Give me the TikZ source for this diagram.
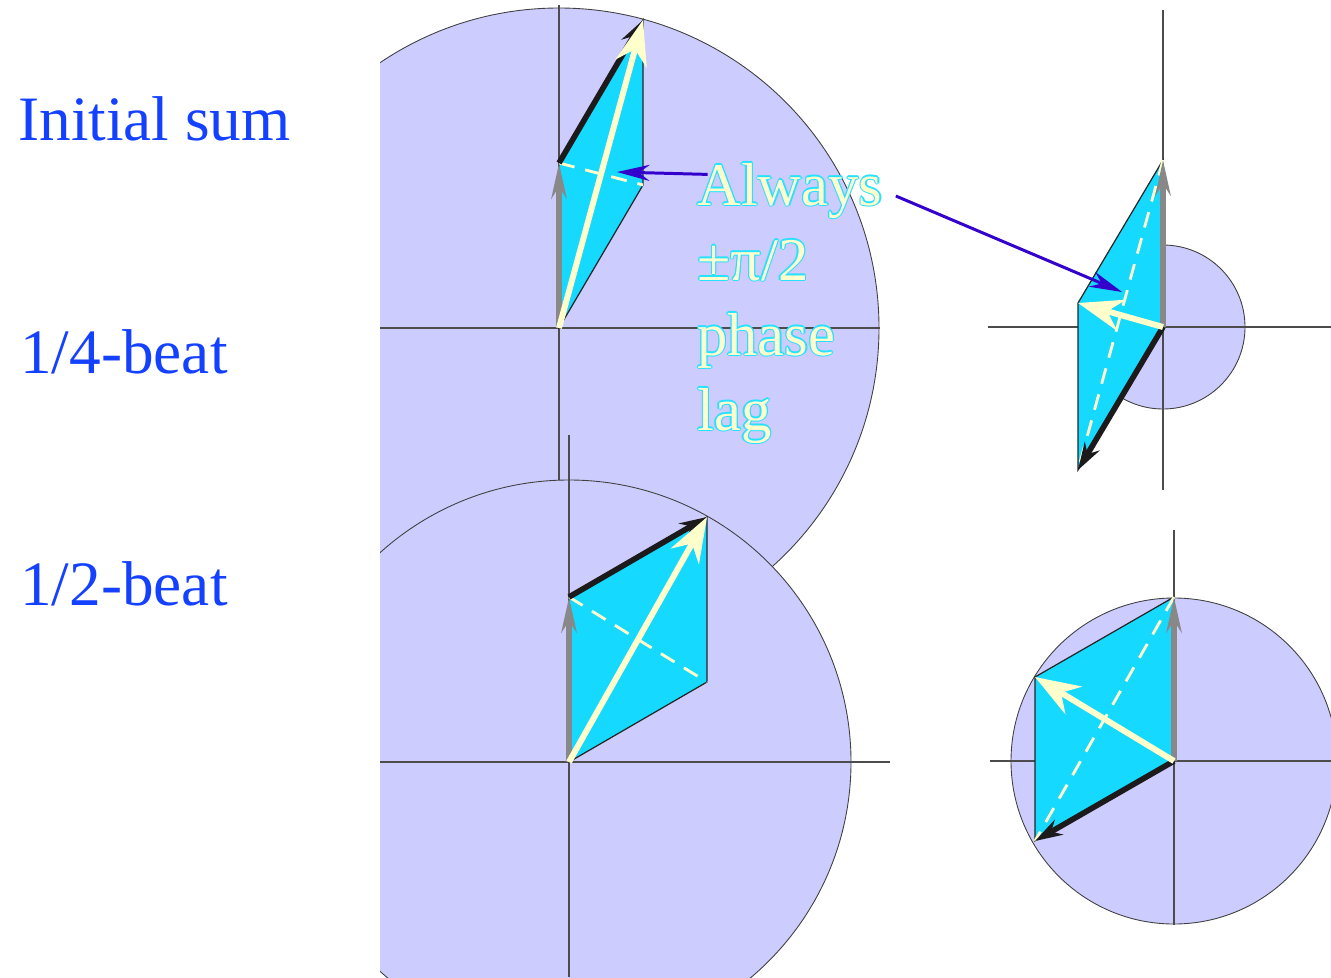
\documentclass[tikz,border=0pt]{standalone}
\usepackage{fontspec}
\setmainfont{Liberation Serif}
\newfontfamily\timesfont{Liberation Serif}
\usetikzlibrary{arrows.meta}

\definecolor{lavfill}{RGB}{204,204,255}
\definecolor{skyfill}{RGB}{21,217,255}
\definecolor{creamc}{RGB}{255,255,204}
\definecolor{grayv}{RGB}{136,136,136}
\definecolor{blackv}{RGB}{28,26,26}
\definecolor{labelblue}{RGB}{20,65,255}
\definecolor{pointerblue}{RGB}{51,0,204}
\definecolor{lagedge}{RGB}{40,225,255}

% one line of the outlined note: cyan copies round it, cream on top
\newcommand\lagline[3]{%
  \foreach \a in {0,45,...,315}
    \node[lagtext, text=lagedge, shift={(\a:1.3)}] (#1-\a) at (#2) {#3};
  \node[lagtext, text=creamc] (#1) at (#2) {#3};}

\begin{document}
\begin{tikzpicture}[
  x=0.02cm, y=-0.02cm,
  disc/.style={fill=lavfill, draw=black!75, line width=0.5pt},
  axis/.style={draw=black!70, line width=0.6pt},
  para/.style={fill=skyfill, draw=black!85, line width=0.7pt},
  diag/.style={draw=creamc, dash pattern=on 0.32cm off 0.22cm, line width=1.6pt},
  unitvec/.style={draw=grayv, line width=3.4pt, -{Stealth[length=0.7cm,width=0.3cm]}},
  beatvec/.style={draw=blackv, line width=3.2pt, -{Stealth[length=0.55cm,width=0.34cm]}},
  sumvec/.style={draw=creamc, line width=3.4pt, -{Stealth[length=0.9cm,width=0.64cm]}},
  rowlabel/.style={anchor=base west, inner sep=0, text=labelblue,
                   font=\timesfont\fontsize{36}{40}\selectfont},
  lagtext/.style={anchor=base west, inner sep=0, font=\timesfont\fontsize{34.5}{40}\selectfont},
  pointer/.style={draw=pointerblue, line width=1.7pt, -{Stealth[length=0.65cm,width=0.32cm]}}
]
\useasboundingbox (0,0) rectangle (1331,977);
\clip (0,0) rectangle (1331,977);

% left column, cut at x=380
\begin{scope}
\clip (380,0) rectangle (1331,977);
% initial sum
\draw[disc] (559,328) circle (320);
\draw[axis] (380,328) -- (880,328);
\draw[axis] (559,5) -- (559,648);
\coordinate (o1) at (559,328);
\coordinate (g1) at (559,163);
\coordinate (s1) at (643,20);
\coordinate (b1) at (643,185);
\draw[para] (o1) -- (g1) -- (s1) -- (b1) -- cycle;
\draw[diag] (g1) -- (b1);
\draw[unitvec] (o1) -- (g1);
\draw[beatvec] (g1) -- (s1);
\draw[sumvec] (o1) -- (s1);
% half beat
\draw[disc] (569,762) circle (282);
\draw[axis] (380,762) -- (890,762);
\draw[axis] (569,435) -- (569,977);
\coordinate (o2) at (569,762);
\coordinate (g2) at (569,597);
\coordinate (s2) at (707,517);
\coordinate (b2) at (707,682);
\draw[para] (o2) -- (g2) -- (s2) -- (b2) -- cycle;
\draw[diag] (g2) -- (b2);
\draw[unitvec] (o2) -- (g2);
\draw[beatvec] (g2) -- (s2);
\draw[sumvec] (o2) -- (s2);
\end{scope}

% right column: quarter beat
\draw[disc] (1163,327) circle (82);
\draw[axis] (988,327) -- (1331,327);
\draw[axis] (1163,10) -- (1163,490);
\coordinate (o3) at (1163,327);
\coordinate (g3) at (1163,160);
\coordinate (s3) at (1078,303);
\coordinate (b3) at (1078,470);
\draw[para] (o3) -- (g3) -- (s3) -- (b3) -- cycle;
\draw[diag] (g3) -- (b3);
\draw[unitvec] (o3) -- (g3);
\draw[beatvec] (o3) -- (b3);
\draw[sumvec] (o3) -- (s3);

% right column: half beat
\draw[disc] (1174,761) circle (163);
\draw[axis] (990,761) -- (1331,761);
\draw[axis] (1174,530) -- (1174,925);
\coordinate (o4) at (1174,761);
\coordinate (g4) at (1174,597);
\coordinate (s4) at (1035,677);
\coordinate (b4) at (1035,841);
\draw[para] (o4) -- (g4) -- (s4) -- (b4) -- cycle;
\draw[diag] (g4) -- (b4);
\draw[unitvec] (o4) -- (g4);
\draw[beatvec] (o4) -- (b4);
\draw[sumvec] (o4) -- (s4);

% row labels
\node[rowlabel] (initial) at (18,140) {Initial sum};
\node[rowlabel] (quarter) at (20,373) {1/4-beat};
\node[rowlabel] (half) at (20,605) {1/2-beat};

% the note and its pointers
\lagline{lag1}{697,205}{Always}
\lagline{lag2}{697,280}{±π/2}
\lagline{lag3}{697,355}{phase}
\lagline{lag4}{697,430}{lag}
\coordinate (tip1) at (617,172);
\coordinate (tip2) at (1122,292);
\draw[pointer, shorten <=-6pt] (lag1.170) -- (tip1);
\draw[pointer, shorten <=8pt] (lag1.east) -- (tip2);
\end{tikzpicture}
\end{document}
